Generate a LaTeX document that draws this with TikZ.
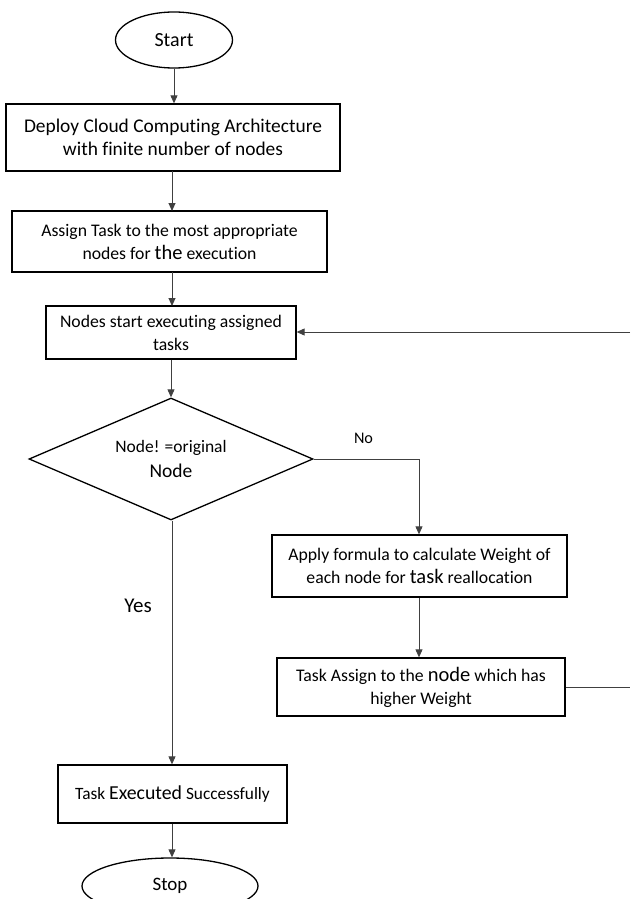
\documentclass[tikz,border=0pt]{standalone}
\usepackage{fontspec}
\setmainfont{Carlito}[Ligatures=NoCommon]
\usetikzlibrary{shapes.geometric,arrows.meta}
\newcommand{\bigw}[1]{{\fontsize{20.5}{24}\selectfont #1}}
\tikzset{
  boxnode/.style={draw=black, line width=1.3pt, inner sep=0pt, align=center, font=\fontsize{17.7}{23}\selectfont},
  ovalnode/.style={draw=black, line width=1.3pt, ellipse, inner sep=0pt},
  decnode/.style={draw=black, line width=1.3pt, diamond, inner sep=0pt, align=center, font=\fontsize{17.5}{25}\selectfont},
  conn/.style={draw=black!75, line width=0.9pt},
  arr/.style={conn, -{Triangle[length=8pt,width=7pt]}},
  lbl/.style={inner sep=0pt}
}
\begin{document}
\begin{tikzpicture}[x=1pt,y=-1pt]
\useasboundingbox (0,0) rectangle (630,899);
\clip (0,0) rectangle (630,899);
\node[ovalnode, minimum width=117pt, minimum height=56pt, font=\fontsize{20}{24}\selectfont] (start) at (174,40) {Start};
\node[boxnode, minimum width=334pt, minimum height=67pt, font=\fontsize{19.4}{23}\selectfont] (b1) at (173,137.5)
  {Deploy Cloud Computing Architecture\\with finite number of nodes};
\node[boxnode, minimum width=315pt, minimum height=61pt] (b2) at (169.5,241.5)
  {Assign Task to the most appropriate\\nodes for \bigw{the} execution};
\node[boxnode, minimum width=250pt, minimum height=53pt] (b3) at (171,332.5)
  {Nodes start executing assigned\\tasks};
\node[decnode, aspect=2.33, minimum width=284pt, minimum height=122pt] (dia) at (171,459)
  {Node! =original\\{\fontsize{19.5}{25}\selectfont Node}};
\node[boxnode, minimum width=295pt, minimum height=62pt] (b4) at (419.5,566)
  {Apply formula to calculate Weight of\\each node for \bigw{task} reallocation};
\node[boxnode, minimum width=288pt, minimum height=58pt] (b5) at (421,687)
  {Task Assign to the \bigw{node} which has\\higher Weight};
\node[boxnode, minimum width=229pt, minimum height=58pt, font=\fontsize{17.3}{23}\selectfont] (b6) at (172.5,794)
  {Task {\fontsize{19.8}{23}\selectfont Executed} Successfully};
\node[ovalnode, minimum width=176pt, minimum height=56pt, font=\fontsize{19}{24}\selectfont] (stop) at (170,886) {Stop};
\node[lbl, font=\fontsize{16.2}{18}\selectfont] (nolbl) at (363.5,438) {No};
\node[lbl, font=\fontsize{21}{24}\selectfont] (yeslbl) at (138,606) {Yes};
\coordinate (bend) at (419,459);
\coordinate (rin) at (630,332);
\coordinate (rout) at (630,687);
\draw[arr] (start.south) -- (start.south |- b1.north);
\draw[arr] (172,171) -- (172,211);
\draw[arr] (172,272) -- (172,306);
\draw[arr] (b3.south -| dia.north) -- (dia.north);
\draw[arr] (dia.east) -- (bend) -- (bend |- b4.north);
\draw[arr] (bend |- b4.south) -- (bend |- b5.north);
\draw[conn] (b5.east) -- (rout);
\draw[arr] (rin) -- (rin -| b3.east);
\draw[arr] (dia.south -| 172,0) -- (172,0 |- b6.north);
\draw[arr] (172,0 |- b6.south) -- (172,0 |- stop.north);
\end{tikzpicture}
\end{document}
